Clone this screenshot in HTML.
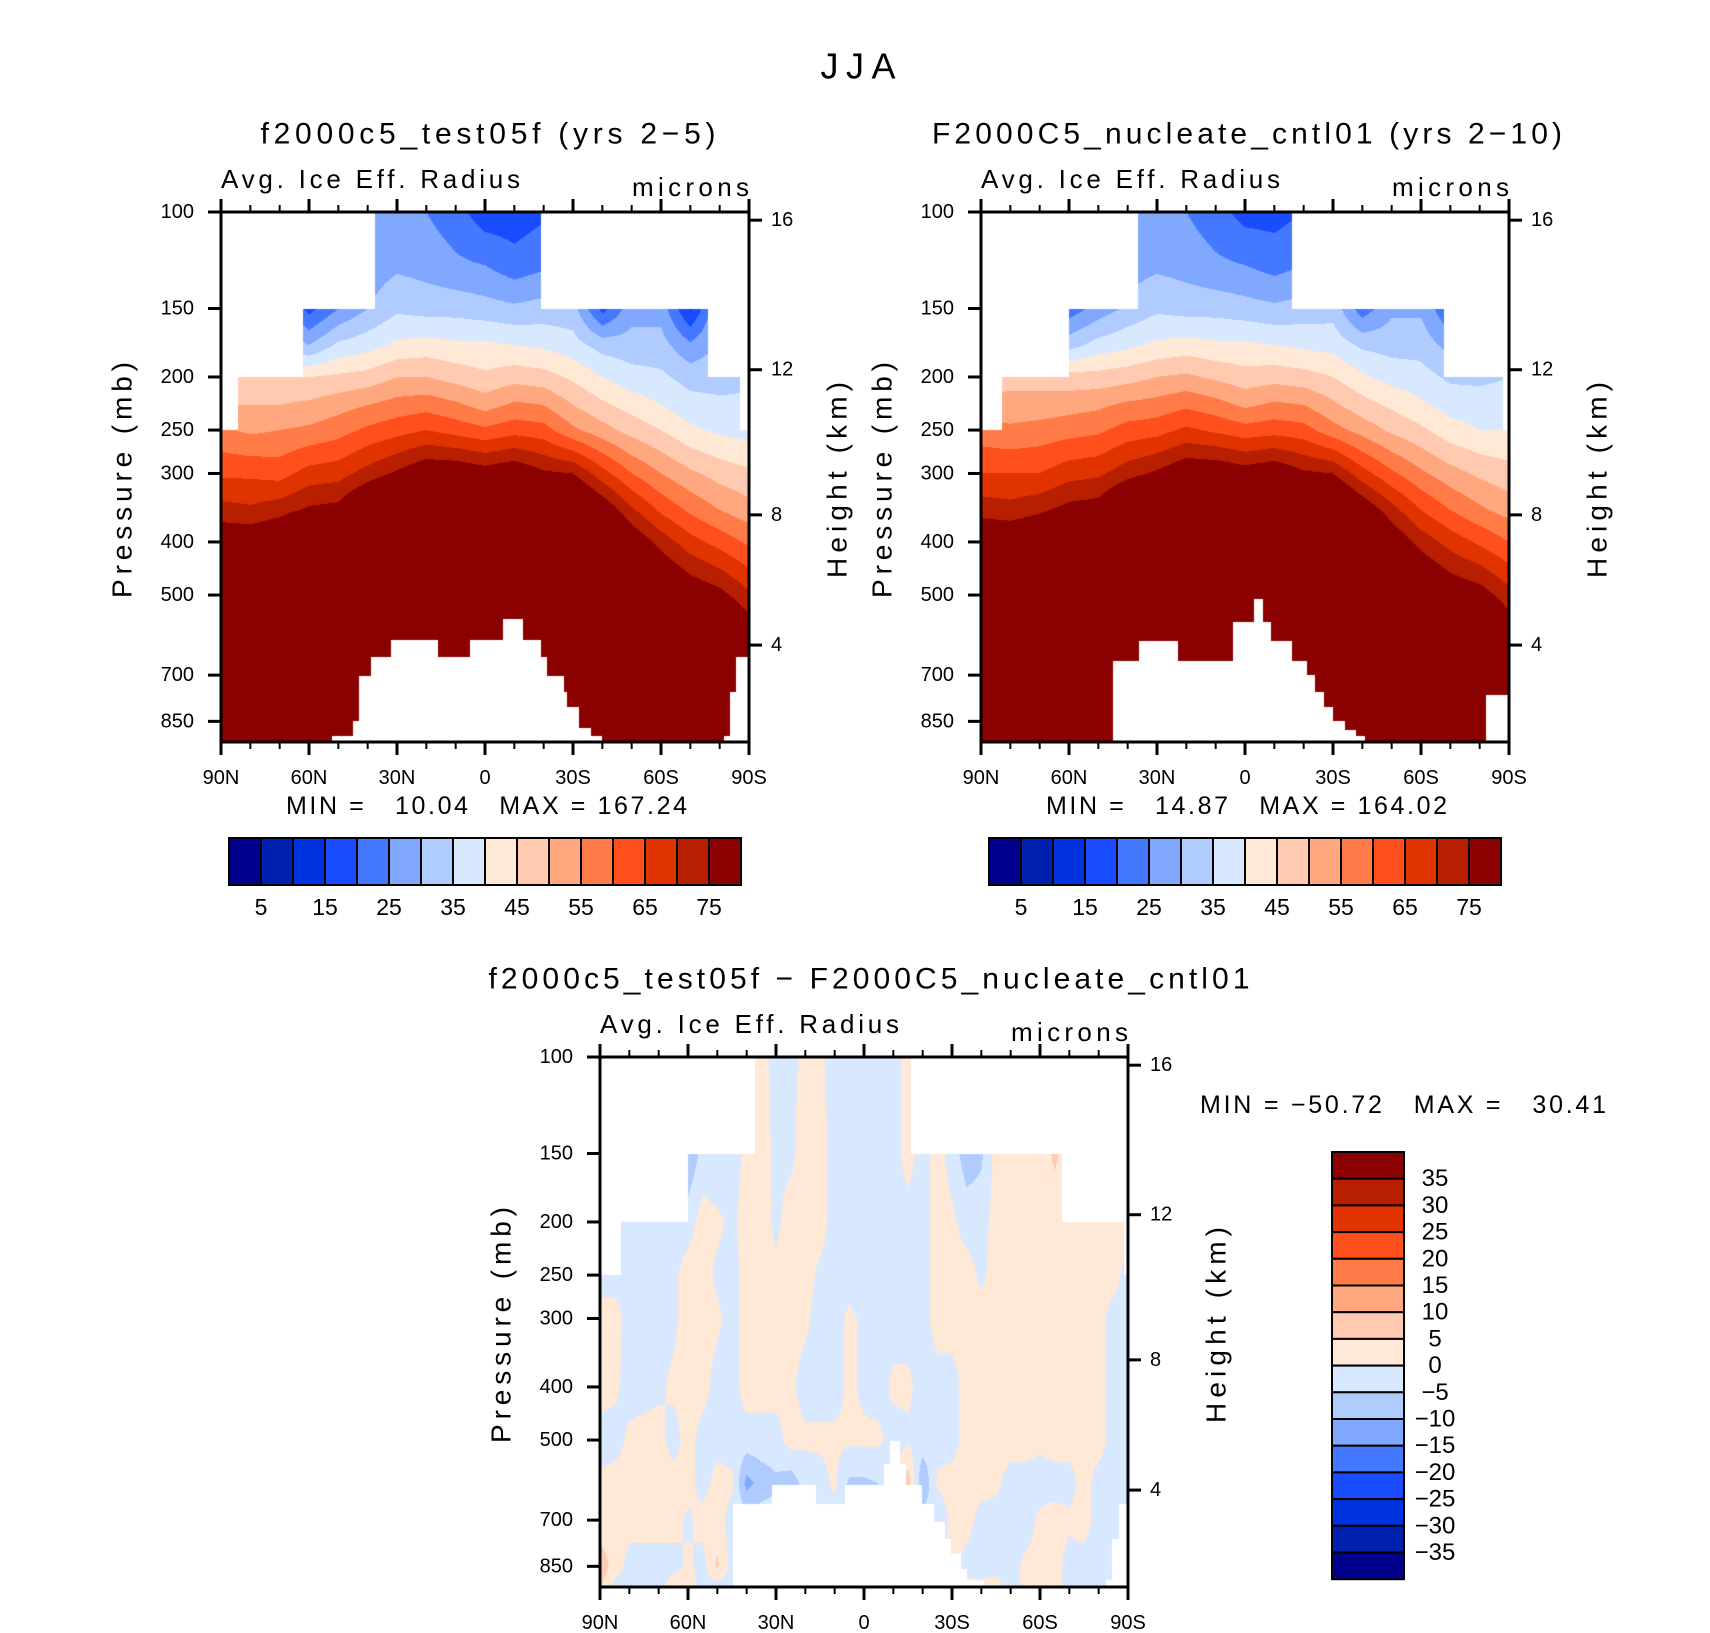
<!DOCTYPE html>
<html><head><meta charset="utf-8">
<style>
html,body{margin:0;padding:0;background:#fff;}
#root{position:relative;width:1710px;height:1633px;overflow:hidden;font-family:"Liberation Sans",sans-serif;}
canvas{position:absolute;}
svg{position:absolute;left:0;top:0;}
</style></head>
<body>
<div id="root">
<canvas id="c1" width="528" height="530" style="left:221px;top:212px"></canvas>
<canvas id="c2" width="528" height="530" style="left:981px;top:212px"></canvas>
<canvas id="c3" width="528" height="530" style="left:600px;top:1057px"></canvas>
<svg id="ov" width="1710" height="1633"></svg>
</div>
<script>
// ---------- data ----------
const pLevels = [100,125,150,175,200,225,250,300,350,400,500,600,700,850,925];
const latLabels = ["90N","80N","70N","60N","50N","40N","30N","20N","10N","EQ","10S","20S","30S","40S","50S","60S","70S","80S","90S"];
const panel1Values = [
[20,25,30,38,45,50,56,64,72,80,95,100,100,100,100],
[20,25,30,38,47,50,54,64,71,80,95,100,100,100,100],
[20,25,28,36,46,50,55,63,73,82,95,100,100,100,100],
[10,12,18,30,45,51,56,67,76,90,100,100,100,100,100],
[20,22,25,36,46,53,58,68,77,90,100,100,100,100,100],
[25,27,30,38,47,55,61,72,85,95,100,100,100,100,100],
[27,29,34,41,50,57,63,76,90,100,100,100,100,100,100],
[25,28,33,42,50,58,65,80,95,100,100,100,100,100,100],
[22,26,33,41,48,56,63,80,95,100,100,100,100,100,100],
[17,25,32,41,46,53,61,78,95,100,100,100,100,100,100],
[17,22,31,40,48,56,63,80,95,100,100,100,100,100,100],
[19,24,32,39,47,55,62,76,90,100,100,100,100,100,100],
[25,28,32,37,44,50,56,75,88,100,100,100,100,100,100],
[10,12,18,33,40,46,52,67,80,90,100,100,100,100,100],
[20,24,28,32,37,43,48,60,71,80,95,100,100,100,100],
[20,24,28,32,36,40,45,55,64,73,85,95,100,100,100],
[8,10,14,26,33,37,41,51,59,67,80,95,100,100,100],
[20,25,30,31,33,36,39,48,55,63,77,90,100,100,100],
[20,25,30,32,34,36,38,46,52,59,71,80,95,100,100]];
const panel2Values = [
[22,27,32,40,47,52,57,65,73,81,95,100,100,100,100],
[22,27,32,40,48,52,56,65,72,81,95,100,100,100,100],
[22,27,30,38,48,52,57,65,74,83,95,100,100,100,100],
[14,16,22,33,47,53,58,68,77,90,100,100,100,100,100],
[21,23,27,37,47,54,59,69,78,90,100,100,100,100,100],
[26,28,31,39,48,56,62,73,86,95,100,100,100,100,100],
[27,29,34,41,50,57,63,76,90,100,100,100,100,100,100],
[25,28,33,42,51,59,66,80,95,100,100,100,100,100,100],
[22,26,33,41,49,57,64,80,95,100,100,100,100,100,100],
[18,25,32,41,47,54,62,78,95,100,100,100,100,100,100],
[18,23,31,40,48,56,63,80,95,100,100,100,100,100,100],
[20,25,32,39,47,55,62,76,90,100,100,100,100,100,100],
[26,29,33,38,45,51,57,75,88,100,100,100,100,100,100],
[16,18,22,34,41,47,53,67,80,90,100,100,100,100,100],
[21,25,29,33,38,44,49,61,72,80,95,100,100,100,100],
[21,25,29,33,37,41,46,56,65,73,85,95,100,100,100],
[14,16,20,28,34,38,42,52,60,68,80,95,100,100,100],
[21,26,30,32,34,37,40,49,56,64,78,90,100,100,100],
[21,26,30,33,35,37,40,47,53,60,72,80,95,100,100]];
const diffP = [100,150,200,250,300,400,500,600,700,850,925];
const diffValues = [
[-2,-2,-2,-2,2,2,-2,1,2,8,6],
[-2,-2,-2,-2,2,1,-2,2,2,3,-2],
[-2,-2,-2,-2,-2,-2,1,2,2,-2,-2],
[-2,-2,-2,-2,-2,-2,2,2,2,-2,-2],
[-2,-2,-2,-2,-2,-1,2,2,2,-2,-2],
[-2,-2,-2,-1,-1,1,-2,2,2,-2,3],
[-2,-10,-2,2,2,2,2,2,-1,1,3],
[-2,-3,2,2,2,2,-2,-2,2,-2,-2],
[-2,-4,1,-1,1,-2,-2,2,2,6,-2],
[-2,-2,-1,-2,-2,-2,-2,1,-2,-2,-2],
[-2,1,2,2,2,2,-2,-12,-2,-2,-2],
[2,2,2,2,2,2,-2,-8,-2,-2,-2],
[-2,-1,-1,1,2,2,-2,-6,-2,-2,-2],
[-1,-1,2,2,2,1,2,-8,-2,-2,-2],
[1,2,2,2,1,-2,1,-3,-2,-2,-2],
[1,2,2,-1,-2,-2,1,-2,-2,-2,-2],
[-2,-2,-2,-2,-2,-2,1,1,-2,-2,-2],
[-2,-2,-2,-2,1,1,1,-6,-2,-2,-2],
[-2,-2,-2,-2,-1,-1,1,-6,-2,-2,-2],
[-2,-2,-2,-2,-2,-2,1,-5,-2,-2,-2],
[-2,-2,-2,-2,-2,1,-2,-2,-2,-2,-2],
[2,2,-2,-2,-2,1,-1,8,-2,-2,-2],
[-2,-2,-2,-2,-2,-2,-2,-10,-2,-2,-2],
[2,2,2,2,2,-2,-2,1,-5,-2,-2],
[-2,-2,1,2,2,-2,-2,2,2,2,2],
[-2,-8,-2,2,2,2,2,2,2,-2,2],
[-2,-6,-2,-1,2,2,2,2,-2,-2,1],
[2,2,2,2,2,2,2,1,-2,-2,2],
[2,2,2,2,2,2,2,-2,-2,-2,-2],
[2,2,2,2,2,2,2,-2,-2,1,1],
[2,2,2,2,2,2,1,-2,1,1,1],
[2,6,2,2,2,2,2,-2,2,2,2],
[2,2,2,2,2,2,2,-2,1,-2,-2],
[2,2,2,2,2,2,2,2,2,-2,-2],
[2,2,2,2,2,2,2,-2,-2,-2,-2],
[2,2,2,2,-2,-2,-2,-2,-2,-2,-2],
[2,2,2,-2,-2,-2,-2,-2,-2,-2,-2]];
// masks: [fromDeg, toDeg (from 90N), pressure]
const panel1Top = [[0,5.7,250],[5.7,28,200],[28,52.5,150],[52.5,109,100],[109,166,150],[166,177,200],[177,180,250]];
const panel1Bot = [[38,45,905],[45,47,850],[47,51,703],[51,58,649],[58,74,603],[74,85,650],[85,96,603],[96,103,552],[103,109,603],[109,111,650],[111,117,703],[117,118,750],[118,122,800],[122,126,873],[126,130,905],[171.5,173.5,905],[173.5,175.5,750],[175.5,180,650]];
const panel2Top = [[0,7,250],[7,30,200],[30,53.5,150],[53.5,106,100],[106,158,150],[158,178,200],[178,180,250]];
const panel2Bot = [[45,54,660],[54,67,606],[67,86,660],[86,93,560],[93,96,508],[96,99,560],[99,106,606],[106,111,660],[111,114,700],[114,117,750],[117,120,800],[120,124,850],[124,128,880],[128,131,905],[172,180,760]];
const diffTop = [[0,7.3,250],[7.3,30,200],[30,52.8,150],[52.8,106,100],[106,157.6,150],[157.6,178.6,200],[178.6,180,250]];
const diffBot = [[45.4,58.6,654],[58.6,73.7,604],[73.7,83.5,654],[83.5,96.7,604],[96.7,98.8,553],[98.8,102.3,502],[102.3,104.3,553],[104.3,109.9,604],[109.9,113.8,654],[113.8,117.7,705],[117.7,119.7,758],[119.7,123.2,806],[123.2,125,860],[125,131,900],[172.6,174.5,900],[174.5,176.8,758],[176.8,180,654]];
const colors = ["#00008c","#0020b0","#0033e0","#1a4cff","#4478ff","#80a8ff","#b0ccff","#d8e8ff","#ffe8d6","#ffcab0","#ffa880","#ff7b47","#ff4f1c","#e03300","#b81e00","#8b0000"];
const absLevels = [5,10,15,20,25,30,35,40,45,50,55,60,65,70,75];
const diffLevels = [-35,-30,-25,-20,-15,-10,-5,0,5,10,15,20,25,30,35];
const topCbarLabels = ["5","15","25","35","45","55","65","75"];
const diffCbarLabels = ["35","30","25","20","15","10","5","0","\u22125","\u221210","\u221215","\u221220","\u221225","\u221230","\u221235"];
const latTickLabels = ["90N","60N","30N","0","30S","60S","90S"];
const pTickValues = [100,150,200,250,300,400,500,700,850];
const hTickValues = [16,12,8,4];
const hTickPressure = [103.5,194,357,617];

// ---------- scales ----------
const W=528,H=530,PXLN=238;
function yOfP(p){return Math.log(p/100)*PXLN;}
function pOfY(y){return 100*Math.exp(y/PXLN);}
function xOfD(d){return d/180*W;}
function maskP(segs,d,def){for(const s of segs){if(d>=s[0]&&d<s[1])return s[2];}return def;}
function hexRGB(h){return [parseInt(h.substr(1,2),16),parseInt(h.substr(3,2),16),parseInt(h.substr(5,2),16)];}
const rgb=colors.map(hexRGB);

function sample(vals,plev,d,p){
  const n=vals.length;const fi=d/180*(n-1);
  let i0=Math.min(n-2,Math.floor(fi));const ti=fi-i0;
  const lp=Math.log(p);let j0=0;
  while(j0<plev.length-2&&Math.log(plev[j0+1])<lp)j0++;
  let tj=(lp-Math.log(plev[j0]))/(Math.log(plev[j0+1])-Math.log(plev[j0]));
  tj=Math.max(0,Math.min(1,tj));
  const a=vals[i0][j0],b=vals[i0][j0+1],c=vals[i0+1][j0],e=vals[i0+1][j0+1];
  return (a*(1-tj)+b*tj)*(1-ti)+(c*(1-tj)+e*tj)*ti;
}
function drawField(id,vals,plev,levels,topM,botM){
  const cv=document.getElementById(id),ctx=cv.getContext('2d');
  const img=ctx.createImageData(W,H);
  for(let y=0;y<H;y++){const p=pOfY(y+0.5);
    for(let x=0;x<W;x++){const d=(x+0.5)/W*180;const k=(y*W+x)*4;
      if(p<maskP(topM,d,0)||p>maskP(botM,d,99999)){img.data[k]=255;img.data[k+1]=255;img.data[k+2]=255;img.data[k+3]=255;continue;}
      const v=sample(vals,plev,d,p);let ci=0;while(ci<levels.length&&v>=levels[ci])ci++;
      const c=rgb[ci];img.data[k]=c[0];img.data[k+1]=c[1];img.data[k+2]=c[2];img.data[k+3]=255;}}
  ctx.putImageData(img,0,0);
}
drawField('c1',panel1Values,pLevels,absLevels,panel1Top,panel1Bot);
drawField('c2',panel2Values,pLevels,absLevels,panel2Top,panel2Bot);
drawField('c3',diffValues,diffP,diffLevels,diffTop,diffBot);

// ---------- overlay ----------
const NS="http://www.w3.org/2000/svg",ov=document.getElementById('ov');
function el(tag,attrs,parent){const e=document.createElementNS(NS,tag);for(const k in attrs)e.setAttribute(k,attrs[k]);(parent||ov).appendChild(e);return e;}
function txt(s,x,y,size,anchor,parent,extra){const t=el('text',Object.assign({x:x,y:y,'font-size':size,'text-anchor':anchor||'start','dominant-baseline':'central','font-family':'Liberation Sans, sans-serif',fill:'#000'},extra||{}),parent);t.textContent=s;return t;}
function fit(t,len){t.setAttribute('textLength',len);t.setAttribute('lengthAdjust','spacing');}

function axes(ox,oy,name,title,titleLen,titleCx){
  const g=el('g',{});
  
  
  el('rect',{x:ox,y:oy,width:W,height:H,fill:'none',stroke:'#000','stroke-width':3},g);
  for(let k=0;k<=18;k++){const x=ox+xOfD(k*10);const maj=k%3===0;const L=maj?13:7;
    el('line',{x1:x,y1:oy+H,x2:x,y2:oy+H+L,stroke:'#000','stroke-width':maj?3:2},g);
    el('line',{x1:x,y1:oy,x2:x,y2:oy-L,stroke:'#000','stroke-width':maj?3:2},g);}
  latTickLabels.forEach((s,i)=>{const t=txt(s,ox+xOfD(i*30),oy+H+36,20,'middle',g);
    
    });
  pTickValues.forEach(p=>{const y=oy+yOfP(p);
    el('line',{x1:ox,y1:y,x2:ox-13,y2:y,stroke:'#000','stroke-width':3},g);
    const t=txt(String(p),ox-27,y,20,'end',g);
    
    });
  hTickValues.forEach((h,i)=>{const y=oy+yOfP(hTickPressure[i]);
    el('line',{x1:ox+W,y1:y,x2:ox+W+13,y2:y,stroke:'#000','stroke-width':3},g);
    const t=txt(String(h),ox+W+22,y,20,'start',g);
    
    });
  const a=txt('Avg. Ice Eff. Radius',ox,oy-33,26,'start',g);fit(a,299);
  
  
  const m=txt('microns',ox+W-117,oy-25,26,'start',g);fit(m,117);
  
  
  const yl=txt('Pressure  (mb)',0,0,28,'middle',g,{transform:'translate('+(ox-99)+','+(oy+H/2+3)+') rotate(-90)'});fit(yl,236);
  
  
  const hl=txt('Height  (km)',0,0,28,'middle',g,{transform:'translate('+(ox+W+88)+','+(oy+H/2+3)+') rotate(-90)'});fit(hl,196);
  
  
  const tt=txt(title,titleCx,oy-78,30,'middle',g);fit(tt,titleLen);
  
  
}
axes(221,212,'test05f','f2000c5_test05f (yrs 2\u22125)',455,488);
axes(981,212,'cntl01','F2000C5_nucleate_cntl01 (yrs 2\u221210)',630,1247);
axes(600,1057,'difference','f2000c5_test05f \u2212 F2000C5_nucleate_cntl01',761,869);

const jja=txt('JJA',858,66,36,'middle');fit(jja,75);



function minmax(s,x,y,len,name){const t=txt(s,x,y,25,'start',null,{'xml:space':'preserve'});t.style.whiteSpace='pre';fit(t,len);
  
  }
minmax('MIN =   10.04   MAX = 167.24',286,806,401,'min-max-test05f');
minmax('MIN =   14.87   MAX = 164.02',1046,806,401,'min-max-cntl01');
minmax('MIN = \u221250.72   MAX =   30.41',1200,1105,406,'min-max-difference');

function hbar(ox,oy,name){const g=el('g',{});
  
  
  const bw=32,bh=47;
  colors.forEach((c,i)=>{const r=el('rect',{x:ox+i*bw,y:oy,width:bw,height:bh,fill:c,stroke:'#000','stroke-width':2},g);
    
    });
  topCbarLabels.forEach((s,i)=>{const t=txt(s,ox+bw*(1+2*i),oy+bh+22,23,'middle',g);
    
    });
}
hbar(229,838,'colorbar-test05f');
hbar(989,838,'colorbar-cntl01');
(function(){const g=el('g',{});
  
  
  const ox=1332,oy=1152,bw=72,bh=26.7;
  for(let i=0;i<16;i++){const r=el('rect',{x:ox,y:oy+i*bh,width:bw,height:bh,fill:colors[15-i],stroke:'#000','stroke-width':2},g);
    
    }
  diffCbarLabels.forEach((s,i)=>{const t=txt(s,1435,oy+bh*(i+1),24,'middle',g);
    
    });
})();
</script>
</body></html>
